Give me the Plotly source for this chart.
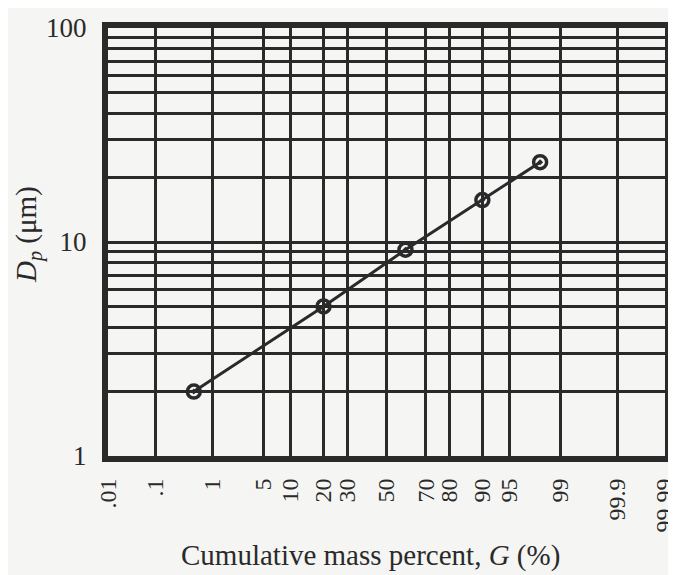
import plotly.graph_objects as go
from statistics import NormalDist

# ---- data ----
G_percent = [0.5, 20, 60, 90, 98]          # cumulative mass percent
Dp_um = [2.0, 5.0, 9.2, 15.7, 23.6]         # particle diameter, µm

x_tick_values = [0.01, 0.1, 1, 5, 10, 20, 30, 50, 70, 80, 90, 95, 99, 99.9, 99.99]
x_tick_labels = [".01", ".1", "1", "5", "10", "20", "30", "50", "70", "80", "90", "95", "99", "99.9", "99.99"]
y_grid_values = [1, 2, 3, 4, 5, 6, 7, 8, 9, 10, 20, 30, 40, 50, 60, 70, 80, 90, 100]
y_label_values = [1, 10, 100]

nd = NormalDist()
def prob(p):
    return nd.inv_cdf(p / 100.0)

x_data = [prob(g) for g in G_percent]
x_ticks = [prob(v) for v in x_tick_values]
y_text = [str(v) if v in y_label_values else "" for v in y_grid_values]

INK = "#2a2a2a"
BG = "#f5f5f3"
SERIF = "Liberation Serif, Times New Roman, serif"

# page has an 8px body margin, so the figure is drawn 8px in from the corner
OFF = 8
W, H = 676 - OFF, 575 - OFF
L, T, B = 108 - OFF, 28 - OFF, 119
R = W - (665 - OFF)
PW, PH = W - L - R, H - T - B

fig = go.Figure()
fig.add_trace(go.Scatter(
    x=x_data, y=Dp_um, mode="lines+markers",
    line=dict(color=INK, width=3),
    marker=dict(symbol="circle-open-dot", size=13, color=INK, line=dict(width=3.5, color=INK)),
    showlegend=False, hoverinfo="skip",
))

eps = 0.004
fig.update_layout(
    width=W, height=H,
    margin=dict(l=L, r=R, t=T, b=B, autoexpand=False),
    paper_bgcolor=BG, plot_bgcolor=BG,
    font=dict(family=SERIF, color=INK),
)
fig.update_xaxes(
    range=[prob(0.01) - eps, prob(99.99) + eps],
    tickmode="array", tickvals=x_ticks, ticktext=x_tick_labels,
    tickangle=-90, tickfont=dict(size=24, family=SERIF, color=INK),
    ticks="outside", ticklen=7, tickcolor="rgba(0,0,0,0)",
    ticklabeloverflow="allow",
    showgrid=True, gridcolor=INK, gridwidth=3,
    showline=True, linecolor=INK, linewidth=6, mirror=True,
    zeroline=False, automargin=False,
)
fig.update_yaxes(
    type="log", range=[0, 2],
    tickmode="array", tickvals=y_grid_values, ticktext=y_text,
    tickfont=dict(size=27, family=SERIF, color=INK),
    ticks="outside", ticklen=10, tickcolor="rgba(0,0,0,0)",
    showgrid=True, gridcolor=INK, gridwidth=3,
    showline=True, linecolor=INK, linewidth=6, mirror=True,
    zeroline=False, automargin=False,
)

# axis titles (positions given in page pixels, converted to paper fractions)
fig.add_annotation(
    text="Cumulative mass percent, <i>G</i> (%)",
    xref="paper", yref="paper",
    x=(370 - OFF - L) / PW, y=(H - B - (555 - OFF)) / PH,
    xanchor="center", yanchor="middle", showarrow=False,
    font=dict(size=29, family=SERIF, color=INK),
)
fig.add_annotation(
    text="<i>D<sub>p</sub></i> (μm)",
    xref="paper", yref="paper",
    x=(28 - OFF - L) / PW, y=(H - B - (235 - OFF)) / PH,
    xanchor="center", yanchor="middle", showarrow=False, textangle=-90,
    font=dict(size=29, family=SERIF, color=INK),
)

fig.write_html("out.html")
